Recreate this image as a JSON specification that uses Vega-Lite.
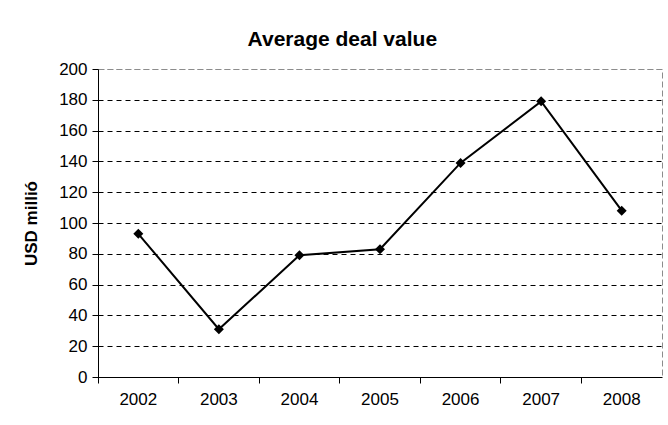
{
  "$schema": "https://vega.github.io/schema/vega-lite/v6.json",
  "width": 564,
  "height": 308,
  "autosize": {"type": "none"},
  "padding": {"left": 98, "top": 69, "right": 6, "bottom": 48},
  "background": "white",
  "config": {
    "font": "Liberation Sans",
    "view": {"stroke": "#8c8c8c", "strokeDash": [6, 3], "strokeWidth": 1}
  },
  "title": {
    "text": "Average deal value",
    "font": "Liberation Sans",
    "fontSize": 21,
    "fontWeight": "bold",
    "color": "black",
    "anchor": "middle",
    "frame": "bounds",
    "offset": 10
  },
  "data": {
    "values": [
      {"year": "2002", "value": 93},
      {"year": "2003", "value": 31},
      {"year": "2004", "value": 79},
      {"year": "2005", "value": 83},
      {"year": "2006", "value": 139},
      {"year": "2007", "value": 179},
      {"year": "2008", "value": 108}
    ]
  },
  "encoding": {
    "x": {
      "field": "year",
      "type": "ordinal",
      "scale": {"type": "band", "paddingInner": 0, "paddingOuter": 0},
      "axis": {
        "title": null,
        "labelAngle": 0,
        "labelFont": "Liberation Sans",
        "labelFontSize": 17,
        "labelColor": "black",
        "labelPadding": 8,
        "bandPosition": 0,
        "tickColor": "black",
        "tickSize": 6,
        "domainColor": "black",
        "grid": false
      }
    },
    "y": {
      "field": "value",
      "type": "quantitative",
      "scale": {"domain": [0, 200], "nice": false},
      "axis": {
        "title": "USD millió",
        "titleFont": "Liberation Sans",
        "titleFontSize": 17,
        "titleFontWeight": "bold",
        "titleColor": "black",
        "titlePadding": 18,
        "values": [0, 20, 40, 60, 80, 100, 120, 140, 160, 180, 200],
        "labelFont": "Liberation Sans",
        "labelFontSize": 17,
        "labelColor": "black",
        "labelPadding": 5,
        "tickColor": "black",
        "tickSize": 6,
        "domainColor": "black",
        "grid": true,
        "gridColor": {"condition": {"test": "datum.value === 200", "value": "#8c8c8c"}, "value": "black"},
        "gridDash": [5, 4],
        "gridWidth": 1
      }
    }
  },
  "layer": [
    {"mark": {"type": "line", "color": "black", "strokeWidth": 2}},
    {"mark": {"type": "point", "shape": "diamond", "filled": true, "color": "black", "opacity": 1, "size": 100}}
  ]
}
